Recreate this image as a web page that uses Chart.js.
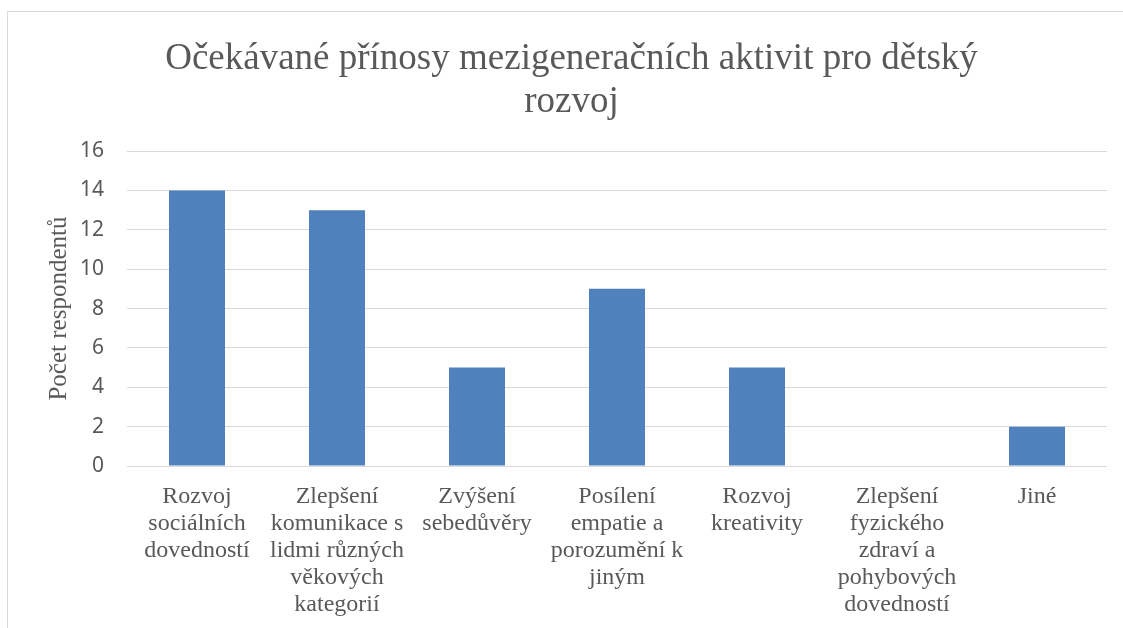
<!DOCTYPE html>
<html lang="cs">
<head>
<meta charset="utf-8">
<title>Očekávané přínosy mezigeneračních aktivit pro dětský rozvoj</title>
<script src="https://cdn.jsdelivr.net/npm/chart.js@4.4.1/dist/chart.umd.min.js"></script>
<style>
  html, body { margin: 0; padding: 0; background: #fff; overflow: hidden; }
  #wrap { position: relative; width: 1123px; height: 628px; }
  #frame {
    position: absolute; left: 7px; top: 11px; width: 1300px; height: 800px;
    border-left: 1px solid #d9d9d9; border-top: 1px solid #d9d9d9;
  }
  #chart { position: absolute; left: 0; top: 0; }
</style>
</head>
<body>
<div id="wrap">
  <div id="frame"></div>
  <canvas id="chart" width="1123" height="628"></canvas>
</div>
<script>
/* ----------------------------------------------------------
   Data
   ---------------------------------------------------------- */
const categories = [
  ['Rozvoj', 'sociálních', 'dovedností'],
  ['Zlepšení', 'komunikace s', 'lidmi různých', 'věkových', 'kategorií'],
  ['Zvýšení', 'sebedůvěry'],
  ['Posílení', 'empatie a', 'porozumění k', 'jiným'],
  ['Rozvoj', 'kreativity'],
  ['Zlepšení', 'fyzického', 'zdraví a', 'pohybových', 'dovedností'],
  ['Jiné'],
];
const respondents = [14, 13, 5, 9, 5, 0, 2];
const yTicks = [0, 2, 4, 6, 8, 10, 12, 14, 16];

const titleLines = ['Očekávané přínosy mezigeneračních aktivit pro dětský', 'rozvoj'];
const yTitle = 'Počet respondentů';

/* ----------------------------------------------------------
   Styles
   ---------------------------------------------------------- */
const TEXT = '#595959';
const GRID = '#d9d9d9';
const BAR = '#4f81bd';
const SERIF = "'Liberation Serif','Times New Roman',serif";
const SANS = "'Noto Sans','Open Sans',sans-serif";

new Chart(document.getElementById('chart'), {
  type: 'bar',
  data: {
    labels: categories,
    datasets: [{
      label: yTitle,
      data: respondents,
      backgroundColor: BAR,
      borderWidth: 0,
      categoryPercentage: 1,
      barPercentage: 0.4,
    }],
  },
  options: {
    responsive: false,
    animation: false,
    // left padding shifts the centred title to match the reference
    layout: { padding: { left: 36, right: 16, top: 0, bottom: 0 } },
    plugins: {
      legend: { display: false },
      tooltip: { enabled: false },
      title: {
        display: true,
        text: titleLines,
        color: TEXT,
        font: { family: SERIF, size: 37, weight: 'normal', lineHeight: 1.15 },
        padding: { top: 38, bottom: 28 },
      },
    },
    scales: {
      x: {
        grid: { display: false, drawTicks: false },
        border: { display: false },
        ticks: {
          color: TEXT,
          font: { family: SERIF, size: 24, lineHeight: 1.13 },
          padding: 17,
          maxRotation: 0,
          autoSkip: false,
        },
        afterFit: (s) => { s.height = 162; },
      },
      y: {
        min: 0,
        max: 16,
        afterBuildTicks: (s) => { s.ticks = yTicks.map(v => ({ value: v })); },
        grid: { color: GRID, lineWidth: 1, drawTicks: false },
        border: { display: false },
        ticks: {
          color: TEXT,
          font: { family: SANS, size: 21 },
          padding: 23,
        },
        title: {
          display: true,
          text: yTitle,
          color: TEXT,
          font: { family: SERIF, size: 25, lineHeight: 1.2 },
          padding: { top: 8, bottom: 0 },
        },
        afterFit: (s) => { s.width = 91; },
      },
    },
  },
});
</script>
</body>
</html>
